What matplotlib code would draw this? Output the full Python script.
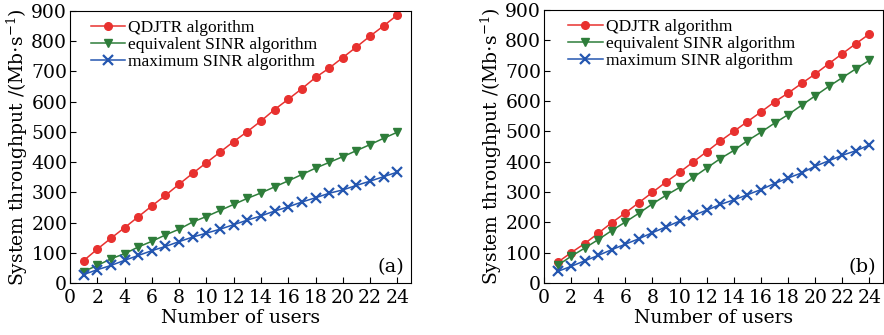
import matplotlib
matplotlib.use("Agg")
import matplotlib.pyplot as plt
import numpy as np

users = list(range(1, 25))

a_qdjtr = [74, 112, 148, 183, 219, 255, 290, 327, 363, 398, 433, 468, 501, 536,
           574, 608, 643, 680, 711, 746, 781, 817, 851, 887]
a_equiv = [38, 58, 80, 97, 119, 138, 159, 178, 202, 220, 240, 260, 280, 298,
           318, 338, 359, 380, 399, 418, 438, 458, 479, 499]
a_max = [28, 44, 58, 75, 91, 107, 121, 137, 152, 165, 178, 193, 208, 222,
         238, 252, 268, 282, 297, 308, 323, 337, 352, 367]

b_qdjtr = [68, 100, 130, 164, 199, 231, 265, 299, 333, 365, 399, 433, 468, 500,
           532, 564, 597, 626, 658, 689, 723, 756, 789, 821]
b_equiv = [58, 88, 115, 143, 173, 201, 230, 261, 289, 315, 348, 379, 410, 437,
           469, 497, 527, 555, 586, 617, 648, 677, 706, 734]
b_max = [38, 55, 73, 91, 110, 128, 146, 166, 185, 204, 223, 240, 259, 274,
         291, 308, 328, 346, 363, 385, 403, 421, 436, 455]

labels = ["QDJTR algorithm", "equivalent SINR algorithm", "maximum SINR algorithm"]
xticks = list(range(0, 25, 2))
yticks = list(range(0, 901, 100))

plt.rcParams['font.family'] = ['DejaVu Serif']
plt.rcParams['mathtext.fontset'] = 'dejavuserif'

fig = plt.figure(figsize=(8.84, 3.35), dpi=100)
W, H = 884, 335
ax1 = fig.add_axes([70 / W, 1 - 283 / H, (411 - 70) / W, (283 - 11) / H])
ax2 = fig.add_axes([544 / W, 1 - 283 / H, (883 - 544) / W, (283 - 10) / H])

def draw(ax, q, e, m, tag, lx):
    ax.plot(users, q, color='#e8312f', marker='o', markersize=5.5, lw=1.1, label=labels[0])
    ax.plot(users, e, color='#2e7d3a', marker='v', markersize=6, lw=1.1, label=labels[1])
    ax.plot(users, m, color='#2456b0', marker='x', markersize=6.5, mew=1.6, lw=1.1, label=labels[2])
    ax.set_xlim(0, 25)
    ax.set_ylim(0, 900)
    ax.set_xticks(xticks)
    ax.set_yticks(yticks)
    ax.tick_params(direction='in', labelsize=13.5, length=4)
    ax.tick_params(axis='x', pad=4)
    ax.tick_params(axis='y', pad=2)
    ax.set_xlabel("Number of users", fontsize=13.5, labelpad=2)
    ax.set_ylabel(r"System throughput /(Mb$\cdot$s$^{-1}$)", fontsize=13.5, labelpad=1)
    ax.text(0.98, 0.025, tag, transform=ax.transAxes, ha='right', va='bottom', fontsize=14)
    ax.legend(loc='upper left', frameon=False, handlelength=2.0,
              prop={'family': 'Liberation Serif', 'size': 12.5},
              handletextpad=0.18, borderaxespad=0.0, borderpad=0.5, labelspacing=0.05,
              bbox_to_anchor=(lx, 1.0))

draw(ax1, a_qdjtr, a_equiv, a_max, "(a)", 0.035)
draw(ax2, b_qdjtr, b_equiv, b_max, "(b)", 0.045)

fig.savefig("out.png", dpi=100)
